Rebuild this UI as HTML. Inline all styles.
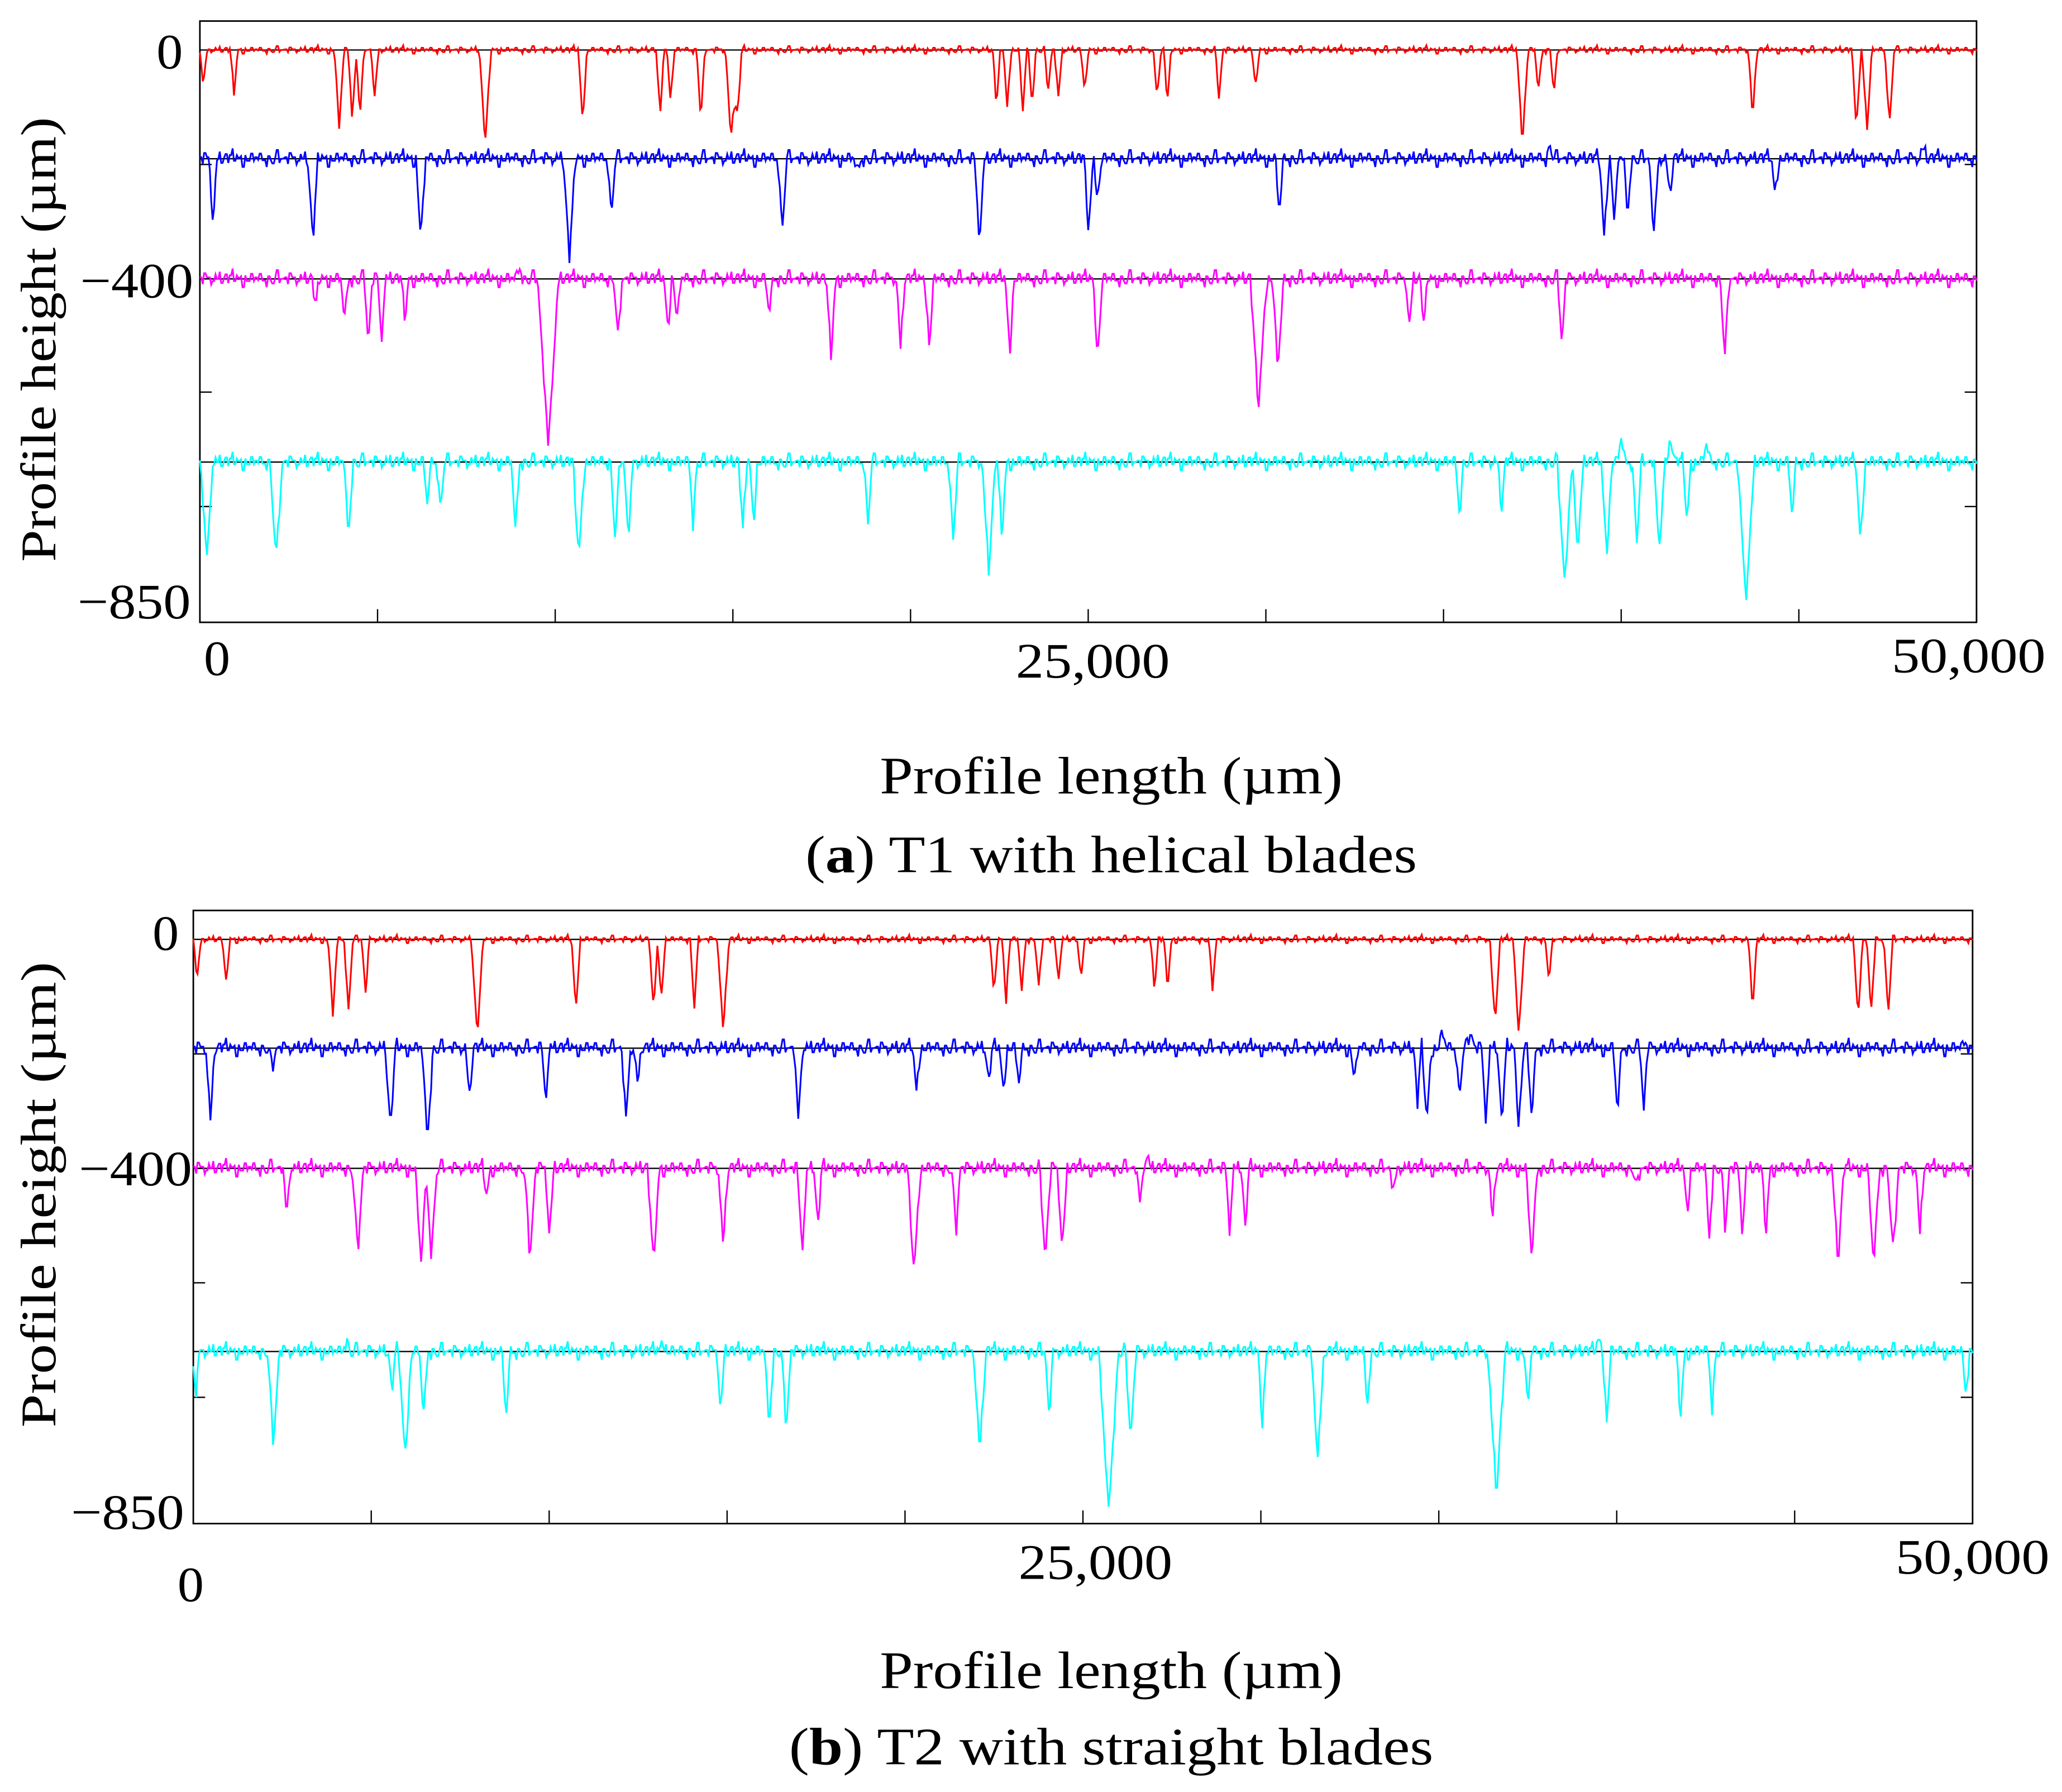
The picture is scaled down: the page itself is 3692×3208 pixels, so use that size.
<!DOCTYPE html>
<html><head><meta charset="utf-8"><style>
html,body{margin:0;padding:0;background:#fff;}
svg{display:block;}
text{font-family:"Liberation Serif",serif;fill:#000;}
</style></head><body>
<svg id="chart" width="3692" height="3208" viewBox="0 0 1568 1362" preserveAspectRatio="none" xmlns="http://www.w3.org/2000/svg"></svg>
<script>
// ---- data (x in µm, depth in µm) ----
const xTickValues = [0,5000,10000,15000,20000,25000,30000,35000,40000,45000,50000];
const xTickLabels = ["0","25,000","50,000"];
const yTickLabels = ["0","\u2212400","\u2212850"];
const seriesNames = ["red","blue","magenta","cyan"];
const seriesColors = ["#ff0000","#0000ff","#ff00ff","#00ffff"];
const offsetsA = [0,-190,-400,-720];
const offsetsB = [0,-190,-400,-720];
const noise = [2,-3,5,-1,4,-6,1,3,-2,6,-4,0,3,-5,2,7,-3,1,-2,4,-6,3,0,-4,5,-1,2,-3,6,-2,1,-5,4,0,-3,2,5,-4,1,-2];
const noiseAmp = [0.8,1.8,1.8,1.8];

const dipsA_red = [[100,62],[960,78],[3920,136],[4290,120],[4510,115],[4920,85],[8030,166],[10770,124],[12950,115],[13250,85],[14100,120],[14950,160],[15130,120],[22420,100],[22720,100],[23160,108],[23420,97],[23870,74],[24160,85],[24900,78],[26940,85],[27230,92],[28680,85],[29710,70],[37220,160],[37670,74],[38110,74],[43700,120],[46620,136],[46920,138],[47550,131]];
const dipsA_blue = [[370,113],[3180,147],[6220,140],[10400,175],[11580,101],[16390,124],[18500,25],[21940,143],[25010,131],[25270,67],[30380,101],[39520,136],[39810,113],[40180,101],[40920,136],[41370,67],[44330,62],[38000,-25],[48500,-20]];
const dipsA_magenta = [[3260,53],[4070,76],[4740,115],[5110,110],[5770,76],[9800,294],[11770,115],[13170,87],[13430,76],[16020,64],[17760,138],[19720,122],[20530,122],[22790,126],[25270,133],[29790,230],[30340,161],[34040,83],[34450,87],[38330,115],[42920,133],[9000,-20]];
const dipsA_cyan = [[190,175],[2150,175],[4180,129],[6400,76],[6770,83],[8880,122],[10660,168],[11690,133],[12060,133],[13880,106],[15280,122],[15580,106],[18800,106],[21200,133],[22200,191],[22570,133],[35450,92],[36630,87],[38410,214],[38780,156],[39590,156],[40440,133],[41070,156],[41850,110],[43510,241],[44810,99],[46730,138],[40000,-39],[41400,-39],[42400,-30]];

const dipsB_red = [[110,71],[920,78],[3920,133],[4360,124],[4840,94],[7980,170],[10750,124],[12930,124],[13150,106],[14080,117],[14890,163],[22500,101],[22840,106],[23280,94],[23760,87],[24310,71],[24940,71],[27010,87],[27380,87],[28640,87],[36580,147],[37250,163],[38100,71],[43820,120],[46780,133],[47150,129],[47630,129]];
const dipsB_blue = [[480,126],[2220,41],[5540,145],[6580,159],[7760,87],[9900,94],[12160,129],[12490,64],[17000,126],[20320,76],[22350,64],[22760,71],[23200,64],[32630,57],[34400,99],[34660,133],[35580,87],[36320,122],[36770,133],[37250,133],[37610,126],[40020,117],[40760,110],[35100,-28],[35900,-28],[49800,-12]];
const dipsB_magenta = [[2620,85],[4620,154],[6400,166],[6690,154],[8240,51],[9460,161],[10010,120],[12930,170],[14890,138],[17110,143],[17550,108],[20250,184],[21430,120],[23940,161],[24420,143],[26600,62],[29120,108],[29560,108],[33730,46],[36510,92],[37610,161],[40570,39],[41980,74],[42600,120],[43050,115],[43530,115],[44190,120],[46220,166],[47220,170],[47770,154],[48520,115],[26800,-22]];
const dipsB_cyan = [[70,78],[2250,166],[5580,74],[5950,184],[6470,120],[8790,120],[14820,108],[16180,131],[16660,138],[22100,177],[24050,115],[25720,280],[26340,154],[30040,120],[31590,193],[32990,97],[36620,251],[37500,97],[39720,120],[41790,120],[42680,97],[49810,74],[4300,-23],[13200,-23],[31500,-23],[39500,-23]];

const svg = document.getElementById('chart');
const NS = 'http://www.w3.org/2000/svg';
function mk(tag, attrs){const e=document.createElementNS(NS,tag);for(const k in attrs)e.setAttribute(k,attrs[k]);svg.appendChild(e);return e;}
function txt(s,x,y,size,anchor,name,len){const t=mk('text',{x:x,y:y,'font-size':size,'text-anchor':anchor||'start'});t.textContent=s;
if(len){t.setAttribute('textLength',len);t.setAttribute('lengthAdjust','spacingAndGlyphs');}


return t;}

function profile(x, dips, si){
  let v = 0;
  for(const d of dips){const w=Math.max(110, Math.abs(d[1])*1.0);const f=1-Math.abs(x-d[0])/w;if(f>0)v-=d[1]*f;}
  const i=Math.floor(x/60);
  v += noise[i%noise.length]*noiseAmp[si] + noise[(i*7+3)%noise.length]*0.5*noiseAmp[si];
  return v;
}

function panel(p){
  const xs = v => p.L + (v/50000)*(p.R-p.L);
  const ys = v => p.y0 - v*0.435;
  const box = mk('rect',{x:p.L,y:p.T,width:p.R-p.L,height:p.B-p.T,fill:'none',stroke:'#000','stroke-width':1.2});
  
  
  xTickValues.forEach(v=>{const l=mk('line',{x1:xs(v),x2:xs(v),y1:p.B,y2:p.B-10,stroke:'#000','stroke-width':1});
    
    });
  p.yTicks.forEach(y=>{[[p.L,p.L+9],[p.R,p.R-9]].forEach(s=>{const l=mk('line',{x1:s[0],x2:s[1],y1:y,y2:y,stroke:'#000','stroke-width':1});
    
    });});
  p.dips.forEach((dips,si)=>{
    const off=p.offsets[si];
    const base=mk('line',{x1:p.L,x2:p.R,y1:ys(off),y2:ys(off),stroke:'#000','stroke-width':1});
    
    
    let d='';
    for(let x=0;x<=50000;x+=40){d+=(x?'L':'M')+xs(x).toFixed(1)+' '+ys(off+profile(x,dips,si)).toFixed(1);}
    const path=mk('path',{d:d,fill:'none',stroke:seriesColors[si],'stroke-width':1.3});
    
    
  });
  const xl=[20,117,117];
  p.xLab.forEach((l,i)=>txt(xTickLabels[i],l[0],l[1],38,'middle',p.id+'-x-tick-label',xl[i]));
  const yl=[20,86,86];
  p.yLab.forEach((l,i)=>txt(yTickLabels[i],l[0],l[1],38,'end',p.id+'-y-tick-label',yl[i]));
  const yt=txt('Profile height (\u00b5m)',0,0,38,'middle',p.id+'-y-axis-title',p.ytl);
  yt.setAttribute('transform','translate('+p.ytx+','+p.yty+') rotate(-90)');
  txt('Profile length (\u00b5m)',845,p.xtY,40,'middle',p.id+'-x-axis-title',352);
  const cap=txt('',845,p.capY,40,'middle',p.id+'-caption',p.capL);
  cap.innerHTML='(<tspan font-weight="bold">'+p.letter+'</tspan>) '+p.cap;
}

panel({id:'panel-a',L:152,R:1503,T:16,B:473,y0:38,offsets:offsetsA,dips:[dipsA_red,dipsA_blue,dipsA_magenta,dipsA_cyan],
  yTicks:[125,212,298,385],xLab:[[165,513],[831,515],[1497,511]],yLab:[[139,52],[147,226],[145,470]],
  ytx:42,yty:258,ytl:338,xtY:603,capY:663,capL:465,letter:'a',cap:'T1 with helical blades'});
panel({id:'panel-b',L:147,R:1500,T:692,B:1158,y0:714,offsets:offsetsB,dips:[dipsB_red,dipsB_blue,dipsB_magenta,dipsB_cyan],
  yTicks:[801,888,975,1062],xLab:[[145,1217],[833,1200],[1500,1196]],yLab:[[136,722],[146,901],[140,1162]],
  ytx:42,yty:908,ytl:354,xtY:1283,capY:1341,capL:490,letter:'b',cap:'T2 with straight blades'});
</script>
</body></html>
